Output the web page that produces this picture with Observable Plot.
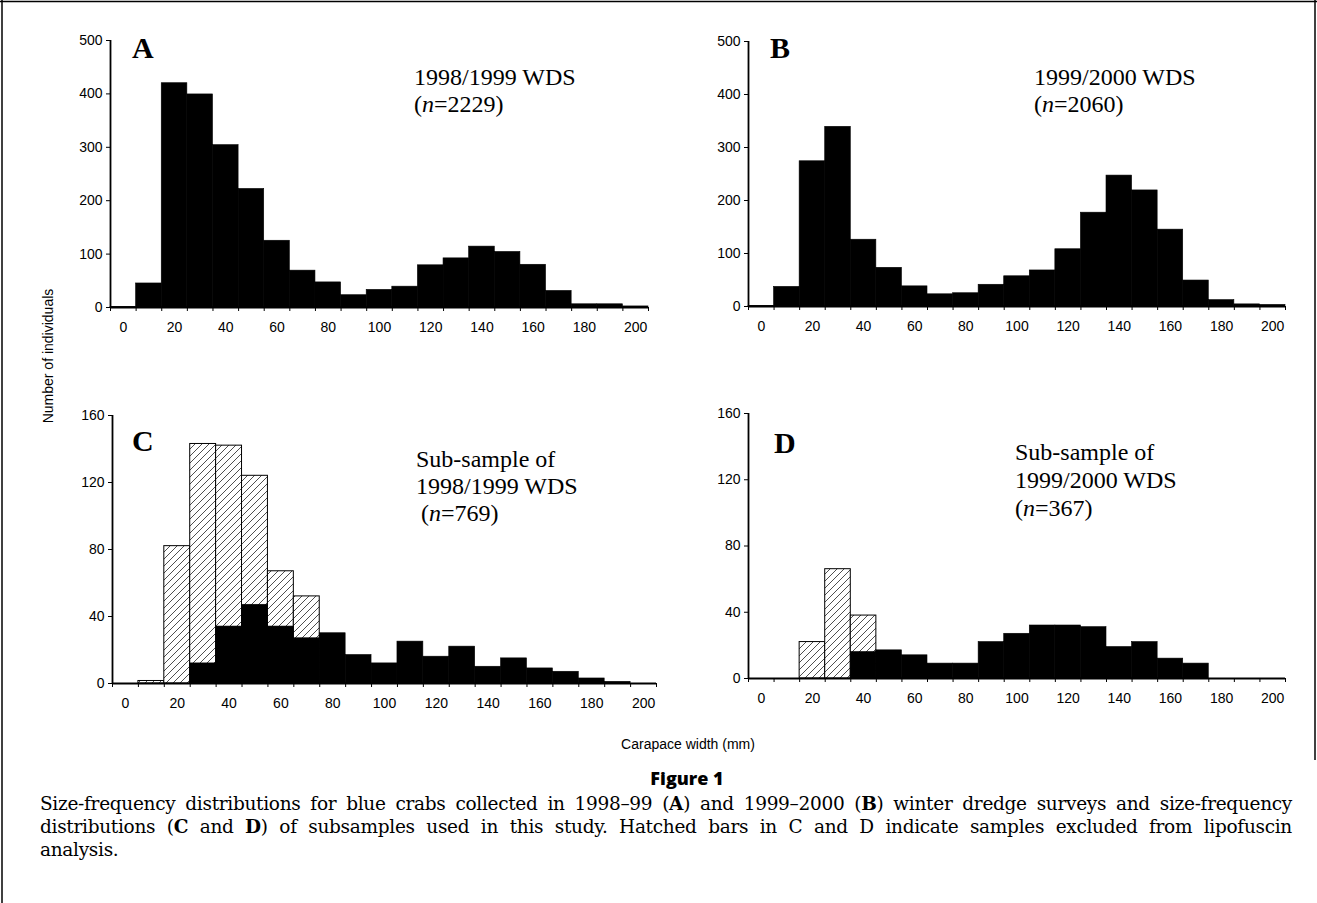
<!DOCTYPE html>
<html><head><meta charset="utf-8">
<script src="https://cdn.jsdelivr.net/npm/d3@7"></script>
<script src="https://cdn.jsdelivr.net/npm/@observablehq/plot@0.6"></script>
<style>
body{margin:0;background:#fff;}
#root{position:relative;width:1317px;height:903px;overflow:hidden;background:#fff;}
.cap{position:absolute;left:40px;width:1252px;font-family:"DejaVu Serif","Liberation Serif",serif;font-size:18.5px;line-height:23px;text-align:justify;text-align-last:justify;color:#000;letter-spacing:-0.3px;}
.cap.last{text-align-last:left;}
</style></head><body>
<div id="root"></div>
<script>
// Size classes (carapace width, mm) — bin centres
const categories = [0,10,20,30,40,50,60,70,80,90,100,110,120,130,140,150,160,170,180,190,200];
const xTickLabels = [0,20,40,60,80,100,120,140,160,180,200];
const yTicksAB = [0,100,200,300,400,500];
const yTicksCD = [0,40,80,120,160];

// Panel A: 1998/1999 WDS (n=2229)
const countsA = [1,45,420,399,304,222,125,69,47,23,33,39,79,92,114,104,80,31,6,6,2];
// Panel B: 1999/2000 WDS (n=2060)
const countsB = [1,37,274,339,126,73,38,23,25,41,57,68,108,177,247,219,145,49,12,4,3];
// Panel C: sub-sample of 1998/1999 — total (hatched+black) and included (black)
const totalC    = [0,1.5,82,143,142,124,67,52,30,17,12,25,16,22,10,15,9,7,3,1,0];
const includedC = [0,0,0,12,34,47,34,27,30,17,12,25,16,22,10,15,9,7,3,1,0];
// Panel D: sub-sample of 1999/2000
const totalD    = [0,0,22,66,38,17,14,9,9,22,27,32,32,31,19,22,12,9,0,0,0];
const includedD = [0,0,0,0,16,17,14,9,9,22,27,32,32,31,19,22,12,9,0,0,0];

const root = document.getElementById("root");
const NS = "http://www.w3.org/2000/svg";

const ov = document.createElementNS(NS, "svg");
ov.setAttribute("width", 1317); ov.setAttribute("height", 903);
ov.style.position = "absolute"; ov.style.left = "0px"; ov.style.top = "0px";
ov.innerHTML = `
<defs>
  <pattern id="hatch" patternUnits="userSpaceOnUse" width="7" height="7">
    <rect width="7" height="7" fill="white"/>
    <path d="M-1.75,1.75 l3.5,-3.5 M0,7 l7,-7 M5.25,8.75 l3.5,-3.5" stroke="#222" stroke-width="0.8"/>
  </pattern>
</defs>`;
root.appendChild(ov);

const bounds = categories.map(c => c - 5).concat([categories[categories.length - 1] + 5]);

function table(cats, a, b) {
  return cats.map((c, i) => ({cat: c, lo: c - 5, hi: c + 5, total: a[i], inc: b ? b[i] : a[i]}));
}

function panel(data, yMax, yTicks, frame, hatched) {
  const mL = 60, mR = 14, mT = 10, mB = 42;
  const marks = [];
  if (hatched) {
    marks.push(Plot.rect(data.filter(d => d.total > d.inc), {x1: "lo", x2: "hi", y1: 0, y2: "total", fill: "url(#hatch)", stroke: "black", strokeWidth: 1}));
  }
  marks.push(Plot.rect(data.filter(d => d.inc > 0), {x1: "lo", x2: "hi", y1: 0, y2: "inc", fill: "black", stroke: "black", strokeWidth: 0.6}));
  marks.push(Plot.ruleY([0], {strokeWidth: 1.8}));
  marks.push(Plot.ruleX([-5], {strokeWidth: 1.8}));
  marks.push(Plot.axisY({ticks: yTicks, tickSize: 4, tickPadding: 4, label: null, tickFormat: d => String(d)}));
  marks.push(Plot.axisX({ticks: bounds, tickSize: 4, tickFormat: () => "", label: null}));
  marks.push(Plot.axisX({ticks: xTickLabels, tickSize: 0, tickPadding: 15, label: null, tickFormat: d => String(d)}));
  const p = Plot.plot({
    width: frame.w + mL + mR,
    height: frame.h + mT + mB,
    marginLeft: mL, marginRight: mR, marginTop: mT, marginBottom: mB,
    x: {domain: [-5, 205]},
    y: {domain: [0, yMax]},
    style: {fontFamily: "'Liberation Sans', Arial, sans-serif", fontSize: "14px", color: "black", background: "transparent", overflow: "visible"},
    marks
  });
  p.style.position = "absolute";
  p.style.left = (frame.x - mL) + "px";
  p.style.top = (frame.y - mT) + "px";
  root.insertBefore(p, ov);
}

panel(table(categories, countsA), 500, yTicksAB, {x: 110, y: 40, w: 538, h: 267}, false);
panel(table(categories, countsB), 500, yTicksAB, {x: 748, y: 41, w: 537, h: 265}, false);
panel(table(categories, totalC, includedC), 160, yTicksCD, {x: 112, y: 415, w: 544, h: 268}, true);
panel(table(categories, totalD, includedD), 160, yTicksCD, {x: 748, y: 413, w: 537, h: 265}, true);

const serif = "'Liberation Serif','Times New Roman',serif";
const sans = "'Liberation Sans',Arial,sans-serif";
ov.insertAdjacentHTML("beforeend", `
<line x1="2" y1="0" x2="2" y2="903" stroke="black" stroke-width="1.5"/>
<line x1="0" y1="1.5" x2="1317" y2="1.5" stroke="black" stroke-width="1.5"/>
<line x1="1315" y1="0" x2="1315" y2="760" stroke="black" stroke-width="1.5"/>
<g font-family="${serif}" font-weight="bold" font-size="30">
  <text x="132" y="58">A</text>
  <text x="770" y="58">B</text>
  <text x="132" y="451">C</text>
  <text x="774" y="453">D</text>
</g>
<g font-family="${serif}" font-size="24">
  <text x="414" y="85">1998/1999 WDS</text>
  <text x="414" y="112">(<tspan font-style="italic">n</tspan>=2229)</text>
  <text x="1034" y="85">1999/2000 WDS</text>
  <text x="1034" y="112">(<tspan font-style="italic">n</tspan>=2060)</text>
  <text x="416" y="467">Sub-sample of</text>
  <text x="416" y="494">1998/1999 WDS</text>
  <text x="421" y="521">(<tspan font-style="italic">n</tspan>=769)</text>
  <text x="1015" y="460">Sub-sample of</text>
  <text x="1015" y="488">1999/2000 WDS</text>
  <text x="1015" y="516">(<tspan font-style="italic">n</tspan>=367)</text>
</g>
<text transform="translate(53,356) rotate(-90)" text-anchor="middle" font-family="${sans}" font-size="14">Number of individuals</text>
<text x="688" y="749" text-anchor="middle" font-family="${sans}" font-size="14">Carapace width (mm)</text>
<text x="687" y="785" text-anchor="middle" font-family="'Open Sans',${sans}" font-weight="800" font-size="18">Figure 1</text>
`);

const lines = [
  'Size-frequency distributions for blue crabs collected in 1998–99 (<b>A</b>) and 1999–2000 (<b>B</b>) winter dredge surveys and size-frequency',
  'distributions (<b>C</b> and <b>D</b>) of subsamples used in this study. Hatched bars in C and D indicate samples excluded from lipofuscin',
  'analysis.'
];
lines.forEach((t, i) => {
  const d = document.createElement("div");
  d.className = "cap" + (i === 2 ? " last" : "");
  d.style.top = (792 + i * 23) + "px";
  d.innerHTML = t;
  root.appendChild(d);
});
</script>
</body></html>
